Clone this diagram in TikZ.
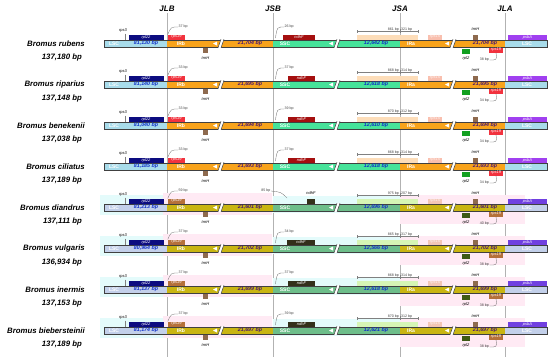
\documentclass[tikz,border=0pt]{standalone}
\usepackage{fontspec}
\setmainfont{Liberation Sans}
\usetikzlibrary{positioning,calc}
% colours, first scheme (rows 1-4)
\definecolor{lscA}{HTML}{A8DCEB}
\definecolor{irA}{HTML}{F8A31B}
\definecolor{sscA}{HTML}{46E39A}
\definecolor{r19A}{HTML}{F2323E}
\definecolor{ndhA}{HTML}{A50F0F}
\definecolor{ycfA}{HTML}{FDDDB9}
\definecolor{r15A}{HTML}{F9BFAE}
\definecolor{rl2A}{HTML}{12A020}
\definecolor{psbA}{HTML}{A040F0}
% colours, second scheme (rows 5-8)
\definecolor{lscB}{HTML}{C3D0EA}
\definecolor{irB}{HTML}{C9B512}
\definecolor{sscB}{HTML}{6DBE8A}
\definecolor{r19B}{HTML}{B5703A}
\definecolor{ndhB}{HTML}{33301A}
\definecolor{ycfB}{HTML}{D6F5B5}
\definecolor{r15B}{HTML}{F3C6B6}
\definecolor{rl2B}{HTML}{3E5A14}
\definecolor{psbB}{HTML}{7040E0}
% shared
\definecolor{navy22}{HTML}{0C0C80}
\definecolor{trnBrown}{HTML}{8E6A4E}
\definecolor{numBlue}{HTML}{1030C8}
\definecolor{numPurple}{HTML}{4A1870}
\definecolor{hlPink}{HTML}{FFEAF4}
\definecolor{hlCyan}{HTML}{E4FBFB}

\begin{document}
\begin{tikzpicture}[x=1pt, y=-1pt,
  junc/.style={font=\fontsize{8}{8}\selectfont\bfseries\itshape, inner sep=1pt},
  jline/.style={draw=black!30, line width=0.6pt},
  species/.style={anchor=east, font=\fontsize{7.8}{8}\selectfont\bfseries\itshape, inner sep=0pt},
  region/.style={font=\fontsize{5}{5}\selectfont\bfseries, text=white, inner sep=0pt},
  size/.style={font=\fontsize{5.3}{5}\selectfont\bfseries\itshape, inner sep=0pt},
  gene/.style={inner sep=0pt, minimum height=5pt, text=white, font=\fontsize{4}{4}\selectfont\itshape},
  lbl/.style={font=\fontsize{4}{4}\selectfont\itshape, inner sep=0.5pt},
  bplbl/.style={font=\fontsize{3.6}{4}\selectfont, text=black!75, inner sep=0.5pt},
  curve/.style={draw=black!60, line width=0.3pt},
  tick/.style={draw=black!50, line width=0.3pt},
  barline/.style={draw=black!75, line width=0.5pt}]
\useasboundingbox (0,0) rectangle (550,357);
% junction lines
\node[junc] (jlb) at (167,9) {JLB};
\node[junc] (jsb) at (273,9) {JSB};
\node[junc] (jsa) at (400,9) {JSA};
\node[junc] (jla) at (505,9) {JLA};
\coordinate (jlbE) at (167,357);
\coordinate (jsbE) at (273,357);
\coordinate (jsaE) at (400,357);
\coordinate (jlaE) at (505,357);
\draw[jline] (jlb.south) -- (jlbE);
\draw[jline] (jsb.south) -- (jsbE);
\draw[jline] (jsa.south) -- (jsaE);
\draw[jline] (jla.south) -- (jlaE);
% one row per species
\foreach \r/\sp/\tot/\lsc/\ir/\ssc/\bA/\bN/\nx/\mL/\mR/\bB in {
  1/Bromus rubens/{137,180}/{81,130}/{21,704}/{12,642}/37/26/283/861/321/38,
  2/Bromus riparius/{137,148}/{81,140}/{21,695}/{12,618}/33/37/288/868/314/34,
  3/Bromus benekenii/{137,038}/{81,040}/{21,694}/{12,610}/33/39/288/870/312/34,
  4/Bromus ciliatus/{137,189}/{81,185}/{21,693}/{12,618}/33/37/288/868/314/34,
  5/Bromus diandrus/{137,111}/{81,213}/{21,601}/{12,696}/59/85/307/975/207/40,
  6/Bromus vulgaris/{136,934}/{80,964}/{21,702}/{12,566}/37/34/287/865/317/38,
  7/Bromus inermis/{137,153}/{81,137}/{21,699}/{12,618}/37/37/288/868/314/38,
  8/Bromus biebersteinii/{137,189}/{81,174}/{21,697}/{12,621}/37/39/288/870/312/38}{
  \pgfmathsetmacro{\yT}{40+41*(\r-1)}
  \pgfmathsetmacro{\yB}{\yT+7}
  \pgfmathsetmacro{\nc}{(\nx+315)/2}
  \pgfmathsetmacro{\nw}{315-\nx}
  \ifnum\r<5
    \colorlet{cL}{lscA}\colorlet{cI}{irA}\colorlet{cS}{sscA}\colorlet{cR19}{r19A}
    \colorlet{cNdh}{ndhA}\colorlet{cYcf}{ycfA}\colorlet{cR15}{r15A}\colorlet{cRl2}{rl2A}
    \colorlet{cPsb}{psbA}
  \else
    \colorlet{cL}{lscB}\colorlet{cI}{irB}\colorlet{cS}{sscB}\colorlet{cR19}{r19B}
    \colorlet{cNdh}{ndhB}\colorlet{cYcf}{ycfB}\colorlet{cR15}{r15B}\colorlet{cRl2}{rl2B}
    \colorlet{cPsb}{psbB}
    % highlighted areas
    \fill[hlCyan] (100,\yT-9) rectangle (167,\yB+4);
    \fill[hlPink] (163,\yT-11) rectangle (272,\yB+4);
    \fill[hlCyan] (273,\yT-8) rectangle (400,\yB+2);
    \fill[hlPink] (400,\yT-9) rectangle (525,\yB+13);
  \fi
  % species and length
  \node[species] (sp\r) at (85,\yT+3.5) {\sp};
  \node[species] (tot\r) at (82,\yT+17.5) {\tot\ bp};
  % the bar
  \fill[cL] (104,\yT) rectangle (167,\yB);
  \fill[cI] (167,\yT) rectangle (273,\yB);
  \fill[cS] (273,\yT) rectangle (400,\yB);
  \fill[cI] (400,\yT) rectangle (505,\yB);
  \fill[cL] (505,\yT) rectangle (547,\yB);
  \draw[barline] (104,\yT) rectangle (547,\yB);
  \foreach \bx in {218,334,450}{
    \fill[white] (\bx-1,\yT+1.5) -- (\bx-5,\yT+3.5) -- (\bx-1,\yT+5.5) -- cycle;
    \fill[white] (\bx,\yB+0.8) -- (\bx+3,\yT-0.8) -- (\bx+6,\yT-0.8) -- (\bx+3,\yB+0.8) -- cycle;
    \draw[black!75, line width=0.5pt] (\bx,\yB+0.8) -- (\bx+3,\yT-0.8);
    \draw[black!75, line width=0.5pt] (\bx+3,\yB+0.8) -- (\bx+6,\yT-0.8);
  }
  \node[region] (lscL\r) at (114,\yT+3.5) {LSC};
  \node[size, text=numBlue] (lscN\r) at (146,\yT+3.5) {\lsc\ bp};
  \node[region] (irb\r) at (181,\yT+3.5) {IRb};
  \node[size, text=numPurple] (irbN\r) at (250,\yT+3.5) {\ir\ bp};
  \node[region] (ssc\r) at (285,\yT+3.5) {SSC};
  \node[size, text=numBlue] (sscN\r) at (376,\yT+3.5) {\ssc\ bp};
  \node[region] (ira\r) at (411,\yT+3.5) {IRa};
  \node[size, text=numPurple] (iraN\r) at (485,\yT+3.5) {\ir\ bp};
  \node[region] (lscR\r) at (527,\yT+3.5) {LSC};
  % genes at JLB
  \node[lbl] (p3\r) at (123,\yT-9) {rps3};
  \coordinate (p3b\r) at (125.5,\yT);
  \draw[tick] (p3\r.south -| p3b\r) -- (p3b\r);
  \node[gene, fill=navy22, minimum width=35pt] (rpl\r) at (146,\yT-3) {rpl22};
  \node[gene, fill=cR19, minimum width=17pt] (rps\r) at (176.5,\yT-3) {rps19};
  \node[bplbl, anchor=west] (bA\r) at (178,\yT-13) {\bA\ bp};
  \draw[curve] (bA\r.west) .. controls (171,\yT-13) .. (rps\r.north west);
  \node[gene, fill=trnBrown, minimum width=5pt] (trnB\r) at (205.5,\yB+3.5) {};
  \node[lbl] (trnBl\r) at (205.5,\yB+11.5) {trnH};
  % ndhF at JSB
  \ifnum\r=5
    \node[gene, fill=cNdh, minimum width=\nw pt] (ndh\r) at (\nc,\yT-3) {};
    \node[lbl] (ndhl\r) at (311,\yT-11) {ndhF};
    \node[bplbl, anchor=east] (bN\r) at (271,\yT-13) {\bN\ bp};
    \coordinate (bNe\r) at (287,\yT-6);
    \draw[curve] (bN\r.east) .. controls (281,\yT-12) .. (bNe\r);
  \else
    \node[gene, fill=cNdh, minimum width=\nw pt] (ndh\r) at (\nc,\yT-3) {ndhF};
    \node[bplbl, anchor=west] (bN\r) at (284,\yT-13) {\bN\ bp};
    \coordinate (bNe\r) at (275.5,\yT-2);
    \draw[curve] (bN\r.west) .. controls (277,\yT-13) .. (bNe\r);
  \fi
  % ycf1 and rps15 at JSA
  \node[gene, fill=cYcf, minimum width=61pt] (ycf\r) at (387.5,\yT-3) {};
  \coordinate (mA\r) at (357,\yT-8.5);
  \coordinate (mB\r) at (418,\yT-8.5);
  \coordinate (mC\r) at (400,\yT-8.5);
  \draw[tick] (mA\r) -- (mB\r);
  \draw[tick] ($(mA\r)+(0,-1.5)$) -- ($(mA\r)+(0,1.5)$);
  \draw[tick] ($(mB\r)+(0,-1.5)$) -- ($(mB\r)+(0,1.5)$);
  \draw[tick] ($(mC\r)+(0,-3)$) -- ($(mC\r)+(0,1.5)$);
  \node[bplbl, anchor=south east] (mL\r) at (399.5,\yT-8.5) {\mL\ bp};
  \node[bplbl, anchor=south west] (mR\r) at (400.5,\yT-8.5) {\mR\ bp};
  \node[gene, fill=cR15, text=white!85!cR15, minimum width=14pt] (r15\r) at (435,\yT-3) {rps15};
  % genes at JLA
  \node[gene, fill=trnBrown, minimum width=5pt] (trnA\r) at (475.5,\yT-3) {};
  \node[lbl] (trnAl\r) at (475.5,\yT-10.5) {trnH};
  \node[gene, fill=cPsb, minimum width=39pt] (psb\r) at (527.5,\yT-3) {psbA};
  \node[gene, fill=cRl2, minimum width=8pt] (rl2\r) at (466,\yB+4) {};
  \node[lbl] (rl2l\r) at (466,\yB+11.5) {rpl2};
  \node[gene, fill=cR19, minimum width=14pt] (rsB\r) at (496,\yB+3) {rps19};
  \node[bplbl, anchor=east] (bB\r) at (489.5,\yB+13) {\bB\ bp};
  \draw[curve] (bB\r.east) .. controls (497,\yB+13) .. (rsB\r.south);
}
\end{tikzpicture}
\end{document}
